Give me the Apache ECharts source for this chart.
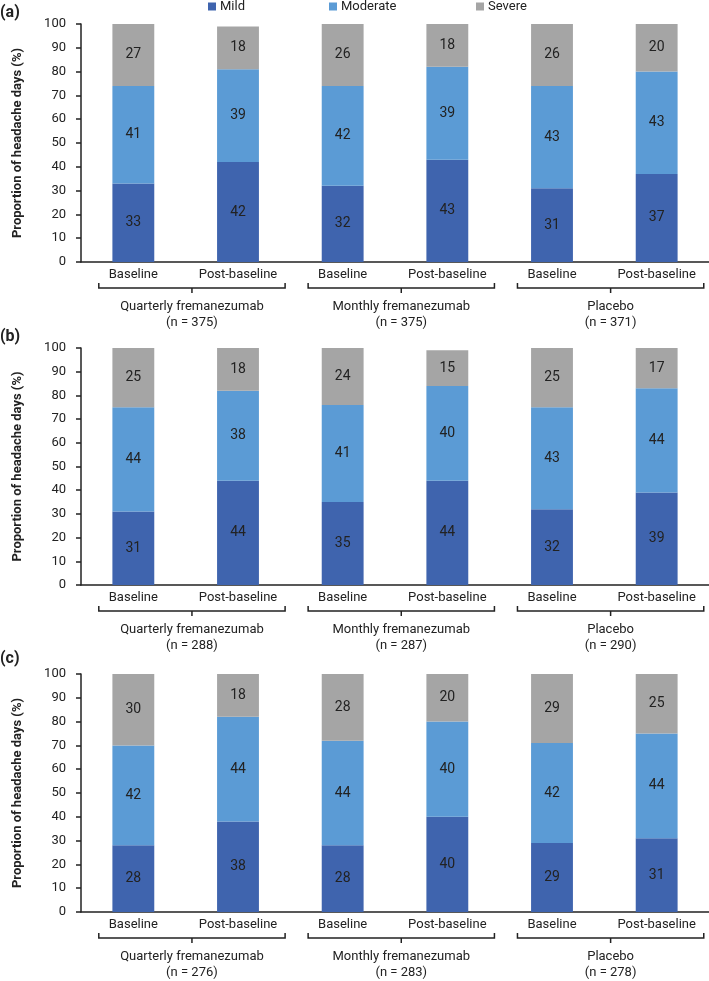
<!DOCTYPE html>
<html>
<head>
<meta charset="utf-8">
<script src="https://cdn.jsdelivr.net/npm/echarts@6/dist/echarts.min.js"></script>
<style>
html,body{margin:0;padding:0;background:#fff;}
#chart{width:709px;height:981px;}
</style>
</head>
<body>
<div id="chart"></div>
<script>
// ---- data ----
const categories = ['Baseline', 'Post-baseline', 'Baseline', 'Post-baseline', 'Baseline', 'Post-baseline'];
const groupNames = ['Quarterly fremanezumab', 'Monthly fremanezumab', 'Placebo'];
const seriesNames = ['Mild', 'Moderate', 'Severe'];
const panelLabels = ['(a)', '(b)', '(c)'];
const yTickMin = 0, yTickMax = 100, yTickStep = 10;

const nA = [375, 375, 371];
const mildA = [33, 42, 32, 43, 31, 37];
const moderateA = [41, 39, 42, 39, 43, 43];
const severeA = [27, 18, 26, 18, 26, 20];

const nB = [288, 287, 290];
const mildB = [31, 44, 35, 44, 32, 39];
const moderateB = [44, 38, 41, 40, 43, 44];
const severeB = [25, 18, 24, 15, 25, 17];

const nC = [276, 283, 278];
const mildC = [28, 38, 28, 40, 29, 31];
const moderateC = [42, 44, 44, 40, 42, 44];
const severeC = [30, 18, 28, 20, 29, 25];

// ---- style ----
const FONT = "Roboto, 'Liberation Sans', sans-serif";
const colors = ['#3f64ae', '#5b9bd5', '#a5a5a5'];
const TXT = '#222';
const panels = [
  { n: nA, vals: [mildA, moderateA, severeA], top: 24, height: 238, labelY: 14 },
  { n: nB, vals: [mildB, moderateB, severeB], top: 348, height: 237, labelY: 338 },
  { n: nC, vals: [mildC, moderateC, severeC], top: 674, height: 238, labelY: 660 }
];

const grid = [], xAxis = [], yAxis = [], series = [], graphic = [];
panels.forEach((p, pi) => {
  grid.push({ left: 81, right: 0, top: p.top, height: p.height, containLabel: false });
  xAxis.push({
    type: 'category', gridIndex: pi, data: categories,
    axisLine: { lineStyle: { color: '#222', width: 1.5 } },
    axisTick: { show: false },
    axisLabel: { interval: 0, color: TXT, fontFamily: FONT, fontSize: 13, margin: 6 }
  });
  xAxis.push({ type: 'value', gridIndex: pi, min: 0, max: categories.length, show: false });
  yAxis.push({
    type: 'value', gridIndex: pi, min: yTickMin, max: yTickMax, interval: yTickStep,
    name: 'Proportion of headache days (%)', nameLocation: 'middle', nameGap: 57,
    nameTextStyle: { color: TXT, fontFamily: FONT, fontSize: 13, fontWeight: 'bold' },
    axisLine: { show: true, lineStyle: { color: '#222', width: 1.5 } },
    axisTick: { show: true, length: 5, lineStyle: { color: '#222', width: 1.5 } },
    axisLabel: { color: TXT, fontFamily: FONT, fontSize: 13, margin: 15 },
    splitLine: { show: false }
  });
  seriesNames.forEach((nm, si) => {
    series.push({
      name: nm, type: 'bar', stack: 'p' + pi, xAxisIndex: pi * 2, yAxisIndex: pi,
      data: p.vals[si], barWidth: '40%',
      itemStyle: { color: colors[si] },
      label: { show: true, position: 'inside', color: TXT, fontFamily: FONT, fontSize: 14 },
      emphasis: { disabled: true }
    });
  });
  const gdata = groupNames.map((g, gi) => [gi * 2 + 0.17, gi * 2 + 1.95, gi]);
  series.push({
    type: 'custom', xAxisIndex: pi * 2 + 1, yAxisIndex: pi, silent: true, clip: false,
    encode: { x: [0, 1], y: 2 },
    data: gdata,
    renderItem: (params, api) => {
      const s = api.coord([api.value(0), 0]);
      const e = api.coord([api.value(1), 0]);
      const c = (s[0] + e[0]) / 2;
      const y0 = s[1];
      const yb = y0 + 26;
      const gi = api.value(2);
      return {
        type: 'group',
        children: [
          { type: 'polyline', shape: { points: [[s[0], yb - 5], [s[0], yb], [e[0], yb], [e[0], yb - 5]] },
            style: { stroke: '#222', lineWidth: 1.5, fill: null } },
          { type: 'line', shape: { x1: c, y1: yb, x2: c, y2: yb + 5 }, style: { stroke: '#222', lineWidth: 1.5 } },
          { type: 'text', style: { text: groupNames[gi] + '\n(n = ' + p.n[gi] + ')', x: c, y: y0 + 37,
            align: 'center', verticalAlign: 'top', lineHeight: 16, fontSize: 13, fontFamily: FONT, fill: TXT } }
        ]
      };
    }
  });
  graphic.push({ type: 'text', left: 0, top: p.labelY - 9,
    style: { text: panelLabels[pi], fontSize: 16, fontWeight: 'bold', fontFamily: FONT, fill: TXT } });
});

const legendLefts = [208, 329, 476];
const legend = seriesNames.map((nm, i) => ({
  data: [nm], left: legendLefts[i], top: 0, padding: 0, itemWidth: 8, itemHeight: 8, itemGap: 4,
  icon: 'rect', selectedMode: false,
  textStyle: { color: TXT, fontFamily: FONT, fontSize: 13, padding: [0, 0, 0, -1] }
}));

const chart = echarts.init(document.getElementById('chart'), null, { renderer: 'canvas' });
chart.setOption({
  animation: false,
  backgroundColor: '#fff',
  legend, grid, xAxis, yAxis, series, graphic
});
</script>
</body>
</html>
